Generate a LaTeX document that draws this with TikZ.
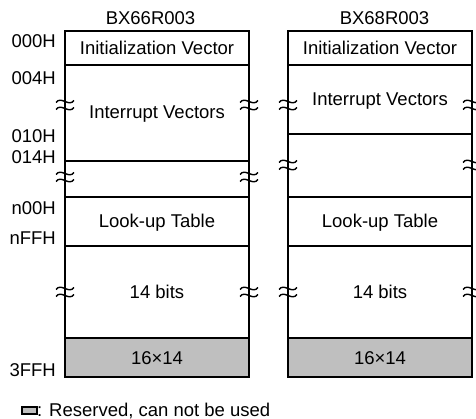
\documentclass[tikz,border=0pt]{standalone}
\usepackage{fontspec}
\setmainfont{Liberation Sans}
\tikzset{
  lbl/.style={inner sep=0pt, font=\fontsize{18.5}{22}\selectfont, text height=13.2pt, text depth=0pt},
  addr/.style={lbl, anchor=east},
  cell/.style={line width=1.6pt},
  rsv/.style={fill=gray!50},
  wave/.style={line width=1.4pt},
}
\newcommand\brkmark[2]{%
  \begin{scope}[shift={(#1,#2)}]
    \draw[wave] (-9,-2.5) .. controls (-4,-9.5) and (4,2.5) .. (9,-4.5);
    \draw[wave] (-9,4.5) .. controls (-4,-2.5) and (4,9.5) .. (9,2.5);
  \end{scope}}
\begin{document}
\begin{tikzpicture}[x=1pt,y=-1pt]
  \useasboundingbox (0,0) rectangle (476,419);
  % left map
  \fill[rsv] (65,338) rectangle (249,377);
  \draw[cell] (65,31) rectangle (249,377);
  \draw[cell] (65,65) -- (249,65);
  \draw[cell] (65,161) -- (249,161);
  \draw[cell] (65,197) -- (249,197);
  \draw[cell] (65,246) -- (249,246);
  \draw[cell] (65,338) -- (249,338);
  % right map
  \fill[rsv] (288,338) rectangle (472,377);
  \draw[cell] (288,31) rectangle (472,377);
  \draw[cell] (288,65) -- (472,65);
  \draw[cell] (288,134) -- (472,134);
  \draw[cell] (288,197) -- (472,197);
  \draw[cell] (288,246) -- (472,246);
  \draw[cell] (288,338) -- (472,338);
  % breaks
  \foreach \y in {105,177,292} {
    \brkmark{65}{\y}
    \brkmark{249}{\y}
  }
  \foreach \y in {105,165,292} {
    \brkmark{288}{\y}
    \brkmark{472}{\y}
  }
  % titles
  \node[lbl] (T1) at (150.5,18) {BX66R003};
  \node[lbl] (T2) at (384.5,18) {BX68R003};
  % contents
  \node[lbl] (IV1) at (157,48) {Initialization Vector};
  \node[lbl] (IR1) at (157,112) {Interrupt Vectors};
  \node[lbl] (LT1) at (157,221) {Look-up Table};
  \node[lbl] (BT1) at (157,292) {14 bits};
  \node[lbl] (RS1) at (157,358) {16×14};
  \node[lbl] (IV2) at (380,48) {Initialization Vector};
  \node[lbl] (IR2) at (380,99) {Interrupt Vectors};
  \node[lbl] (LT2) at (380,221) {Look-up Table};
  \node[lbl] (BT2) at (380,292) {14 bits};
  \node[lbl] (RS2) at (380,358) {16×14};
  % addresses
  \node[addr] (A0) at (56,41) {000H};
  \node[addr] (A1) at (56,77.5) {004H};
  \node[addr] (A2) at (56,136) {010H};
  \node[addr] (A3) at (56,157) {014H};
  \node[addr] (A4) at (56,208) {n00H};
  \node[addr] (A5) at (56,237.5) {nFFH};
  \node[addr] (A6) at (56,370) {3FFH};
  % legend
  \draw[rsv, line width=1.3pt] (22,407) rectangle (37,414);
  \node[lbl, anchor=west] (L) at (37,409.5) {: Reserved, can not be used};
\end{tikzpicture}
\end{document}
